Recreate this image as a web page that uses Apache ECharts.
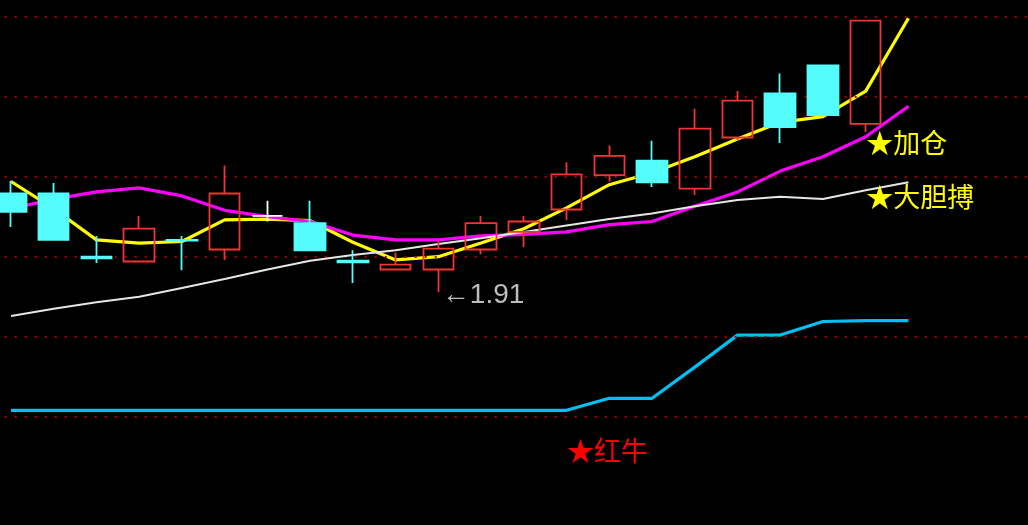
<!DOCTYPE html>
<html><head><meta charset="utf-8">
<script src="https://cdn.jsdelivr.net/npm/echarts@6/dist/echarts.min.js"></script>
<style>html,body{margin:0;padding:0;background:#000;}#c{width:1028px;height:525px;}</style>
</head><body><div id="c"></div>
<script>
// ---- data ----
const days = ['01','02','03','04','05','06','07','08','09','10','11','12','13','14','15','16','17','18','19','20','21','22'];
const opens  = [2.029,2.029,1.950,1.944,1.971,1.959,2.001,1.992,1.945,1.934,1.934,1.959,1.981,2.009,2.052,2.070,2.035,2.099,2.154,2.189,2.116];
const closes = [2.006,1.971,1.948,1.985,1.970,2.029,2.001,1.958,1.943,1.940,1.960,1.992,1.994,2.053,2.076,2.043,2.110,2.145,2.112,2.127,2.245];
const lows   = [1.987,1.971,1.942,1.944,1.933,1.946,1.994,1.958,1.917,1.934,1.906,1.953,1.962,1.996,2.044,2.037,2.027,2.096,2.092,2.127,2.106];
const highs  = [2.045,2.042,1.976,2.001,1.976,2.064,2.020,2.020,1.958,1.955,1.972,2.001,2.001,2.068,2.089,2.095,2.135,2.157,2.179,2.189,2.245];
const lineYellow  = [2.044,2.010,1.971,1.967,1.969,1.996,1.997,1.995,1.968,1.946,1.950,1.967,1.985,2.011,2.040,2.055,2.075,2.097,2.118,2.125,2.157,2.248];
const lineMagenta = [2.010,2.022,2.031,2.036,2.026,2.008,2.000,1.994,1.977,1.971,1.971,1.976,1.978,1.981,1.990,1.994,2.013,2.031,2.057,2.075,2.100,2.138];
const lineWhite   = [1.876,1.885,1.893,1.900,1.911,1.922,1.934,1.945,1.952,1.958,1.966,1.973,1.981,1.989,1.997,2.004,2.013,2.021,2.025,2.022,2.033,2.043];
const lineHongNiu = [1.758,1.758,1.758,1.758,1.758,1.758,1.758,1.758,1.758,1.758,1.758,1.758,1.758,1.758,1.773,1.773,1.812,1.852,1.852,1.869,1.870,1.870];
const gridLevels  = [2.25,2.15,2.05,1.95,1.85,1.75];
const signalTexts  = ['★加仓','★大胆搏','★红牛'];
const signalDays   = [20,20,13];
const signalValues = [2.093,2.025,1.707];
// -------------------------------------

const pos = days.map((d,i)=>i+1);   // day index on the x axis
let minIdx = 0;
lows.forEach((v,i)=>{ if (v < lows[minIdx]) minIdx = i; });
const signalColors = ['#ffff00','#ffff00','#ff0000'];
const step = 42.735;

const chart = echarts.init(document.getElementById('c'), null, {renderer:'canvas'});
chart.setOption({
  backgroundColor:'#000000',
  animation:false,
  grid:{left:0, top:0, right:0, bottom:0},
  xAxis:{type:'value', min:1 - 11/step, max:1 - 11/step + 1028/step, show:false, splitLine:{show:false}},
  yAxis:{type:'value', min:1.614625, max:2.270875, show:false, splitLine:{show:false}},
  series:[
    {type:'line', name:'红牛', data:pos.map((x,i)=>[x, lineHongNiu[i]]), symbol:'none', z:2,
     lineStyle:{color:'#00bff2', width:3.2}, silent:true,
     markLine:{silent:true, symbol:'none', label:{show:false},
       lineStyle:{color:'#a80000', width:2, type:[2,8], dashOffset:5.3},
       data: gridLevels.map(v=>({yAxis:v}))}},
    {type:'line', name:'黄', data:pos.map((x,i)=>[x, lineYellow[i]]), symbol:'none', z:3,
     lineStyle:{color:'#ffff00', width:3.2}, silent:true},
    {type:'line', name:'紫', data:pos.map((x,i)=>[x, lineMagenta[i]]), symbol:'none', z:4,
     lineStyle:{color:'#ff00ff', width:3.2}, silent:true},
    {type:'line', name:'白', data:pos.map((x,i)=>[x, lineWhite[i]]), symbol:'none', z:5,
     lineStyle:{color:'#e6e6e6', width:2}, silent:true},
    {type:'candlestick', z:6, barWidth:31, silent:true,
     data: opens.map((o,i)=>[pos[i], o, closes[i], lows[i], highs[i]]),
     encode:{x:0, y:[1,2,3,4]},
     itemStyle:{color:'rgba(0,0,0,0)', color0:'#54fcfc', borderColor:'#f03535',
       borderColor0:'#54fcfc', borderColorDoji:'#ffffff', borderWidth:1.8}},
    {type:'scatter', z:8, silent:true, symbolSize:1, itemStyle:{color:'rgba(0,0,0,0)', opacity:1},
     data: signalDays.map((d,i)=>({value:[pos[d], signalValues[i]],
       label:{show:true, position:'right', distance:0, formatter:signalTexts[i], opacity:1,
         color:signalColors[i], fontSize:27, fontFamily:'"Noto Sans CJK SC"'}}))},
    {type:'scatter', z:8, silent:true, symbolSize:1, itemStyle:{color:'rgba(0,0,0,0)', opacity:1},
     data:[{value:[pos[minIdx], lows[minIdx]],
       label:{show:true, position:'right', distance:0, formatter:'←' + lows[minIdx].toFixed(2), opacity:1,
         color:'#bdbdbd', fontSize:28, fontFamily:'"Liberation Sans","DejaVu Sans"', offset:[3,3]}}]}
  ]
});
</script></body></html>
